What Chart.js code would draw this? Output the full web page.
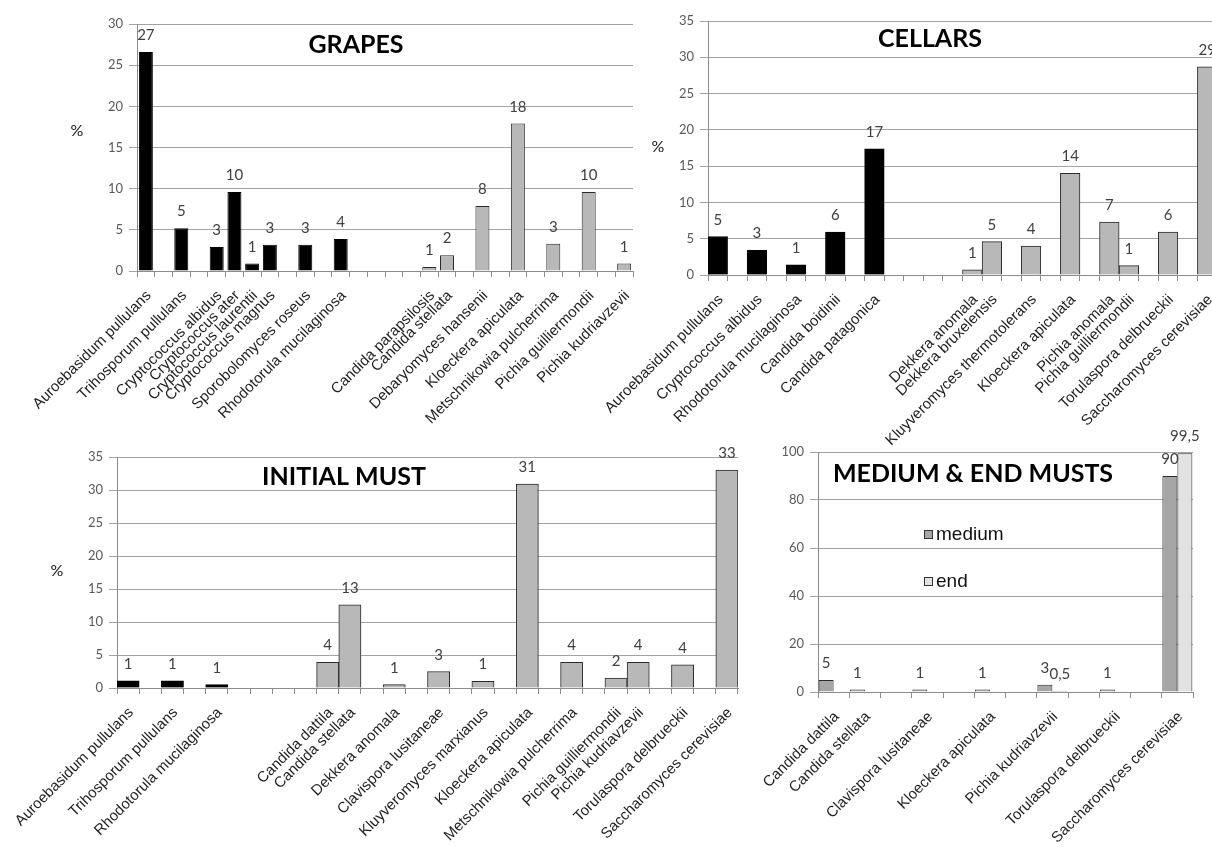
<!DOCTYPE html>
<html>
<head>
<meta charset="utf-8">
<script src="https://cdn.jsdelivr.net/npm/chart.js@4.4.1/dist/chart.umd.min.js"></script>
<style>
  html, body { margin: 0; padding: 0; width: 1212px; height: 847px; overflow: hidden; background: #fff; }
  .panel { position: absolute; }
  .panel canvas { display: block; }
</style>
</head>
<body>
<div class="panel" style="left:0px;top:430px"><canvas id="initial" width="760" height="417" style="width:760px;height:417px"></canvas></div>
<div class="panel" style="left:740px;top:420px"><canvas id="medium" width="472" height="427" style="width:472px;height:427px"></canvas></div>
<div class="panel" style="left:0px;top:0px"><canvas id="grapes" width="650" height="450" style="width:650px;height:450px"></canvas></div>
<div class="panel" style="left:560px;top:0px"><canvas id="cellars" width="680" height="450" style="width:680px;height:450px"></canvas></div>
<script>
// ---- Category slots (empty strings are spacer slots) and percentages ----
const grapesCats = ['Auroebasidum pullulans', '', 'Trihosporum pullulans', '', 'Cryptococcus albidus', 'Cryptococcus ater',
  'Cryptococcus laurentii', 'Cryptococcus magnus', '', 'Sporobolomyces roseus', '', 'Rhodotorula mucilaginosa',
  '', '', '', '', 'Candida parapsilosis', 'Candida stellata', '', 'Debaryomyces hansenii', '', 'Kloeckera apiculata',
  '', 'Metschnikowia pulcherrima', '', 'Pichia guilliermondii', '', 'Pichia kudriavzevii'];
const grapesDark = [26.6, null, 5.2, null, 2.9, 9.6, 0.9, 3.2, null, 3.2, null, 3.9,
  null, null, null, null, null, null, null, null, null, null, null, null, null, null, null, null];
const grapesLight = [null, null, null, null, null, null, null, null, null, null, null, null,
  null, null, null, null, 0.5, 1.9, null, 7.9, null, 17.9, null, 3.3, null, 9.6, null, 0.9];

const cellarsCats = ['Auroebasidum pullulans', '', 'Cryptococcus albidus', '', 'Rhodotorula mucilaginosa', '',
  'Candida boidinii', '', 'Candida patagonica', '', '', '', '', 'Dekkera anomala', 'Dekkera bruxelensis', '',
  'Kluyveromyces thermotolerans', '', 'Kloeckera apiculata', '', 'Pichia anomala', 'Pichia guilliermondii', '',
  'Torulaspora delbrueckii', '', 'Saccharomyces cerevisiae'];
const cellarsDark = [5.3, null, 3.4, null, 1.4, null, 5.9, null, 17.4, null, null, null, null,
  null, null, null, null, null, null, null, null, null, null, null, null, null];
const cellarsLight = [null, null, null, null, null, null, null, null, null, null, null, null, null,
  0.7, 4.6, null, 4.0, null, 14.0, null, 7.3, 1.3, null, 5.9, null, 28.7];

const initialCats = ['Auroebasidum pullulans', '', 'Trihosporum pullulans', '', 'Rhodotorula mucilaginosa', '', '', '', '',
  'Candida dattila', 'Candida stellata', '', 'Dekkera anomala', '', 'Clavispora lusitaneae', '',
  'Kluyveromyces marxianus', '', 'Kloeckera apiculata', '', 'Metschnikowia pulcherrima', '',
  'Pichia guilliermondii', 'Pichia kudriavzevii', '', 'Torulaspora delbrueckii', '', 'Saccharomyces cerevisiae'];
const initialDark = [1.1, null, 1.1, null, 0.5, null, null, null, null, null, null, null, null, null,
  null, null, null, null, null, null, null, null, null, null, null, null, null, null];
const initialLight = [null, null, null, null, null, null, null, null, null, 3.9, 12.6, null, 0.5, null,
  2.5, null, 1.0, null, 30.9, null, 3.9, null, 1.5, 3.9, null, 3.5, null, 33.0];

const mustCats = ['Candida dattila', 'Candida stellata', '', 'Clavispora lusitaneae', '', 'Kloeckera apiculata', '',
  'Pichia kudriavzevii', '', 'Torulaspora delbrueckii', '', 'Saccharomyces cerevisiae'];
const mediumValues = [5, 1, null, 1, null, 1, null, 3, null, 1, null, 90];
const endValues = [null, null, null, null, null, null, null, 0.5, null, null, null, 99.5];

// ---- Shared look ----
const GRID = '#a3a3a3';
const AXIS = '#8c8c8c';
const TICK_TXT = '#595959';
const LABEL_FONT = "'Liberation Sans', Arial, sans-serif";
const NUM_FONT = "Lato, 'Open Sans', sans-serif";

// Draws panel title, "%" caption, value labels and (optionally) an inset legend.
function decor(cfg) {
  return {
    id: 'decor',
    afterDatasetsDraw(chart) {
      const ctx = chart.ctx;
      ctx.save();
      ctx.font = '15px ' + NUM_FONT;
      ctx.fillStyle = '#404040';
      ctx.textAlign = 'center';
      ctx.textBaseline = 'alphabetic';
      chart.data.datasets.forEach((ds, di) => {
        const meta = chart.getDatasetMeta(di);
        meta.data.forEach((bar, i) => {
          const v = ds.data[i];
          if (v === null || v === undefined) return;
          ctx.fillText(cfg.format(v), bar.x, bar.y - 12);
        });
      });

      ctx.font = 'bold ' + cfg.titleSize + 'px ' + NUM_FONT;
      ctx.fillStyle = '#000';
      ctx.fillText(cfg.title, cfg.titleX, cfg.titleY);

      if (cfg.unitX !== undefined) {
        ctx.font = '16px ' + NUM_FONT;
        ctx.fillStyle = '#111';
        ctx.textBaseline = 'middle';
        ctx.fillText('%', cfg.unitX, cfg.unitY);
      }

      if (cfg.legend) {
        ctx.textAlign = 'left';
        ctx.textBaseline = 'alphabetic';
        ctx.font = '19px ' + LABEL_FONT;
        chart.data.datasets.forEach((ds, di) => {
          const y = cfg.legend.y + di * cfg.legend.step;
          ctx.fillStyle = ds.backgroundColor;
          ctx.fillRect(cfg.legend.x, y - 10, 9, 9);
          ctx.strokeStyle = '#333';
          ctx.lineWidth = 1;
          ctx.strokeRect(cfg.legend.x + 0.5, y - 9.5, 8, 8);
          ctx.fillStyle = '#111';
          ctx.fillText(ds.label, cfg.legend.x + 12, y);
        });
      }
      ctx.restore();
    }
  };
}

// Builds a bar chart whose plot area sits at fixed canvas coordinates.
function panel(id, labels, datasets, o) {
  const canvas = document.getElementById(id);
  const W = canvas.width, H = canvas.height;
  return new Chart(canvas, {
    type: 'bar',
    data: { labels, datasets },
    options: {
      responsive: false,
      animation: false,
      devicePixelRatio: 1,
      layout: { padding: { top: o.area.top, right: W - o.area.right, left: 0, bottom: 0 } },
      plugins: { legend: { display: false }, tooltip: { enabled: false } },
      datasets: { bar: { categoryPercentage: o.catPct, barPercentage: o.barPct, borderWidth: 1 } },
      scales: {
        x: {
          grid: { display: true, drawOnChartArea: false, offset: true, color: AXIS, tickLength: 6 },
          border: { display: true, color: AXIS, width: 1 },
          ticks: {
            autoSkip: false, minRotation: 45, maxRotation: 45, padding: 10, labelOffset: 3,
            color: '#1e1e1e', font: { family: LABEL_FONT, size: 15 }
          },
          afterFit(scale) { scale.height = H - o.area.bottom; }
        },
        y: {
          min: 0, max: o.yMax,
          grid: { color: GRID, lineWidth: 1, tickLength: 8 },
          border: { display: true, color: AXIS, width: 1 },
          ticks: { stepSize: o.yStep, padding: 6, color: TICK_TXT, font: { family: NUM_FONT, size: 13 } },
          afterFit(scale) { scale.width = o.area.left; }
        }
      }
    },
    plugins: [decor(o.decor)]
  });
}

const rounded = v => String(Math.round(v));
const commaDecimal = v => String(v).replace('.', ',');

function twoTone(dark, light) {
  return [
    { label: 'dark', data: dark, backgroundColor: '#000000', borderColor: '#000000', grouped: false },
    { label: 'light', data: light, backgroundColor: '#b8b8b8', borderColor: '#2a2a2a', grouped: false }
  ];
}

panel('grapes', grapesCats, twoTone(grapesDark, grapesLight), {
  area: { left: 137, top: 24, right: 633, bottom: 271 },
  yMax: 30, yStep: 5, catPct: 1, barPct: 0.79,
  decor: { title: 'GRAPES', titleSize: 25, titleX: 356, titleY: 53, unitX: 77, unitY: 131, format: rounded }
});

panel('cellars', cellarsCats, twoTone(cellarsDark, cellarsLight), {
  area: { left: 148, top: 21, right: 657, bottom: 275 },
  yMax: 35, yStep: 5, catPct: 1, barPct: 1,
  decor: { title: 'CELLARS', titleSize: 25, titleX: 370, titleY: 47, unitX: 98, unitY: 147, format: rounded }
});

panel('initial', initialCats, twoTone(initialDark, initialLight), {
  area: { left: 117, top: 27, right: 738, bottom: 258 },
  yMax: 35, yStep: 5, catPct: 1, barPct: 1,
  decor: { title: 'INITIAL MUST', titleSize: 25, titleX: 344, titleY: 55, unitX: 57, unitY: 141, format: rounded }
});

panel('medium', mustCats, [
  { label: 'medium', data: mediumValues, backgroundColor: '#a6a6a6', borderColor: '#2a2a2a' },
  { label: 'end', data: endValues, backgroundColor: '#e2e2e2', borderColor: '#2a2a2a' }
], {
  area: { left: 78, top: 32, right: 453, bottom: 272 },
  yMax: 100, yStep: 20, catPct: 0.96, barPct: 1,
  decor: { title: 'MEDIUM & END MUSTS', titleSize: 25, titleX: 233, titleY: 62, format: commaDecimal,
           legend: { x: 184, y: 120, step: 47 } }
});
</script>
</body>
</html>
